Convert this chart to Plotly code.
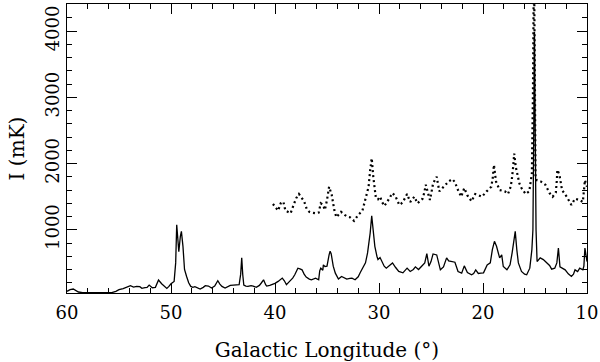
import plotly.graph_objects as go

# solid spectrum: galactic longitude (deg) vs intensity (mK)
solid_l = [60.0, 59.7, 59.4, 59.1, 58.9, 58.5, 58.1, 57.7, 57.3, 56.5, 55.7, 55.3, 55.0, 54.6, 54.2,
           53.9, 53.6, 53.3, 53.0, 52.8, 52.5, 52.3, 52.1, 51.8, 51.5, 51.35, 51.2, 50.9, 50.6, 50.4,
           50.2, 50.0, 49.7, 49.55, 49.45, 49.35, 49.25, 49.1, 49.0, 48.85, 48.7, 48.5, 48.3, 48.1,
           47.9, 47.7, 47.5, 47.2, 46.9, 46.7, 46.4, 46.1, 45.8, 45.5, 45.3, 45.1, 44.8, 44.5, 44.3,
           44.0, 43.7, 43.45, 43.3, 43.2, 43.1, 43.0, 42.8, 42.6, 42.3, 42.1, 41.8, 41.5, 41.3, 41.1,
           40.9, 40.8, 40.5, 40.3, 40.0, 39.7, 39.3, 39.1, 38.9, 38.6, 38.3, 38.1, 37.8, 37.6, 37.4,
           37.2, 37.0, 36.7, 36.5, 36.1, 35.8, 35.7, 35.6, 35.4, 35.35, 35.2, 35.0, 34.8, 34.7, 34.6,
           34.4, 34.2, 33.9, 33.6, 33.3, 33.1, 32.8, 32.6, 32.3, 32.0, 31.8, 31.5, 31.3, 31.1, 31.0,
           30.85, 30.7, 30.55, 30.4, 30.2, 30.1, 29.9, 29.7, 29.5, 29.3, 29.0, 28.7, 28.4, 28.1, 27.7,
           27.5, 27.3, 27.0, 26.7, 26.5, 26.2, 25.9, 25.6, 25.4, 25.2, 25.0, 24.8, 24.45, 24.3, 24.1,
           23.8, 23.5, 23.3, 23.0, 22.7, 22.4, 22.05, 21.8, 21.5, 21.1, 20.9, 20.7, 20.45, 20.2, 19.95,
           19.6, 19.3, 19.1, 18.9, 18.7, 18.5, 18.4, 18.2, 18.05, 17.7, 17.4, 17.2, 17.0, 16.9, 16.75,
           16.6, 16.3, 16.0, 15.8, 15.5, 15.3, 15.2, 15.12, 15.05, 14.98, 14.9, 14.8, 14.5, 14.2, 13.9,
           13.6, 13.4, 13.1, 12.9, 12.75, 12.6, 12.3, 12.1, 11.8, 11.5, 11.3, 11.15, 10.9, 10.7, 10.4,
           10.3, 10.2, 10.1, 10.0]
solid_i = [70, 95, 105, 80, 60, 50, 50, 45, 40, 45, 50, 70, 95, 110, 130,
           155, 135, 145, 140, 115, 125, 130, 165, 125, 130, 180, 240, 185, 135, 115,
           145, 185, 220, 500, 1075, 800, 670, 900, 975, 750, 400, 295, 200, 145,
           130, 140, 125, 105, 130, 155, 150, 120, 150, 230, 180, 145, 120, 140, 160,
           165, 165, 170, 330, 575, 320, 165, 150, 145, 155, 150, 130, 160, 200, 245,
           170, 150, 160, 170, 190, 220, 270, 230, 170, 220, 270, 320, 420, 410, 395,
           330, 285, 255, 245, 270, 245, 380, 420, 390, 470, 445, 450, 620, 675, 640,
           450, 345, 255, 295, 270, 255, 265, 270, 245, 290, 355, 430, 500, 650, 750,
           950, 1210, 950, 750, 600, 550, 580, 500, 450, 420, 460, 500, 430, 370, 350,
           380, 420, 370, 400, 440, 400, 450, 500, 640, 450, 520, 635, 620, 520, 395,
           440, 575, 530, 520, 510, 370, 345, 455, 355, 320, 340, 395, 340, 345, 350,
           470, 500, 700, 825, 750, 600, 575, 620, 445, 395, 470, 650, 930, 975, 700,
           500, 370, 330, 320, 420, 700, 1000, 2500, 3990, 2500, 1000, 520, 575, 550, 500,
           460, 405, 420, 500, 725, 440, 420, 395, 335, 295, 330, 395, 370, 420, 395,
           450, 725, 650, 520]

# dotted spectrum
dot_l = [40.2, 39.9, 39.7, 39.45, 39.2, 39.0, 38.75, 38.5, 38.2, 37.95, 37.7, 37.45, 37.2, 36.95,
         36.7, 36.5, 36.1, 35.8, 35.6, 35.4, 35.2, 35.0, 34.8, 34.55, 34.3, 34.1, 33.9, 33.65, 33.3,
         33.05, 32.8, 32.6, 32.4, 32.2, 32.0, 31.6, 31.4, 31.2, 31.0, 30.85, 30.7, 30.55, 30.4, 30.3,
         30.1, 29.9, 29.7, 29.5, 29.3, 29.1, 28.9, 28.7, 28.4, 28.05, 27.9, 27.7, 27.5, 27.3, 27.0,
         26.8, 26.6, 26.3, 26.1, 25.8, 25.65, 25.5, 25.3, 25.1, 24.95, 24.8, 24.6, 24.45, 24.2, 23.95,
         23.7, 23.5, 23.3, 22.95, 22.7, 22.45, 22.1, 21.8, 21.5, 21.1, 20.75, 20.4, 20.1, 19.65, 19.4,
         19.2, 19.05, 18.95, 18.75, 18.55, 18.4, 17.9, 17.6, 17.4, 17.25, 17.1, 17.0, 16.85, 16.7,
         16.5, 16.3, 15.9, 15.55, 15.3, 15.2, 15.1, 15.0, 14.95, 14.85, 14.45, 14.0, 13.6, 13.3, 13.0,
         12.9, 12.85, 12.65, 12.4, 11.95, 11.5, 11.15, 10.75, 10.4, 10.2, 10.0]
dot_i = [1390, 1320, 1290, 1400, 1425, 1290, 1270, 1250, 1380, 1480, 1540, 1490, 1430, 1315,
         1270, 1260, 1250, 1260, 1400, 1380, 1300, 1450, 1650, 1530, 1300, 1190, 1230, 1270, 1225,
         1200, 1190, 1165, 1135, 1180, 1225, 1285, 1400, 1530, 1650, 1900, 2080, 1800, 1600, 1480,
         1460, 1500, 1420, 1360, 1400, 1450, 1500, 1555, 1500, 1375, 1390, 1420, 1480, 1540, 1420,
         1460, 1500, 1400, 1430, 1470, 1560, 1680, 1560, 1450, 1570, 1700, 1760, 1800, 1580, 1620,
         1650, 1690, 1730, 1765, 1720, 1615, 1500, 1630, 1520, 1430, 1540, 1520, 1500, 1580, 1620,
         1650, 1800, 1980, 1730, 1640, 1600, 1580, 1540, 1620, 1730, 1950, 2150, 1950, 1830,
         1700, 1630, 1540, 1580, 1850, 3000, 5200, 3000, 1800, 1750, 1730, 1680, 1555, 1500, 1560,
         1750, 1905, 1830, 1600, 1500, 1375, 1470, 1450, 1420, 1750, 1650]

FONT = "DejaVu Serif"

fig = go.Figure()
fig.add_trace(go.Scatter(x=solid_l, y=solid_i, mode="lines",
                         line=dict(color="black", width=1.3), showlegend=False))
fig.add_trace(go.Scatter(x=dot_l, y=dot_i, mode="lines",
                         line=dict(color="black", width=2.2, dash="2px,3px"), showlegend=False))

axis_common = dict(
    showgrid=False, zeroline=False, showline=True, linecolor="black", linewidth=1.3,
    mirror="allticks", ticks="inside", ticklen=10, tickwidth=1.3, tickcolor="black",
    tickfont=dict(family=FONT, size=18, color="black"),
    title_font=dict(family=FONT, size=20, color="black"),
)

fig.update_xaxes(
    range=[60, 10], tick0=0, dtick=10, ticklabelstandoff=3,
    minor=dict(dtick=2, ticks="inside", ticklen=5, tickwidth=1.3, tickcolor="black"),
    title_text="Galactic Longitude (°)", title_standoff=28,
    **axis_common,
)
fig.update_yaxes(
    range=[45, 4410], tick0=0, dtick=1000, tickangle=-90, ticklabelstandoff=0,
    minor=dict(dtick=200, ticks="inside", ticklen=5, tickwidth=1.3, tickcolor="black"),
    title_text="I (mK)", title_standoff=11,
    **axis_common,
)

fig.update_layout(
    width=600, height=362,
    margin=dict(l=67, r=13, t=4, b=69, autoexpand=False),
    plot_bgcolor="white", paper_bgcolor="white",
    font=dict(family=FONT, color="black"),
)

# the page body has a default margin; drop it so the figure sits at the window corner
fig.write_html("out.html", config={"displayModeBar": False},
               post_script="document.body.style.margin='0px';")
